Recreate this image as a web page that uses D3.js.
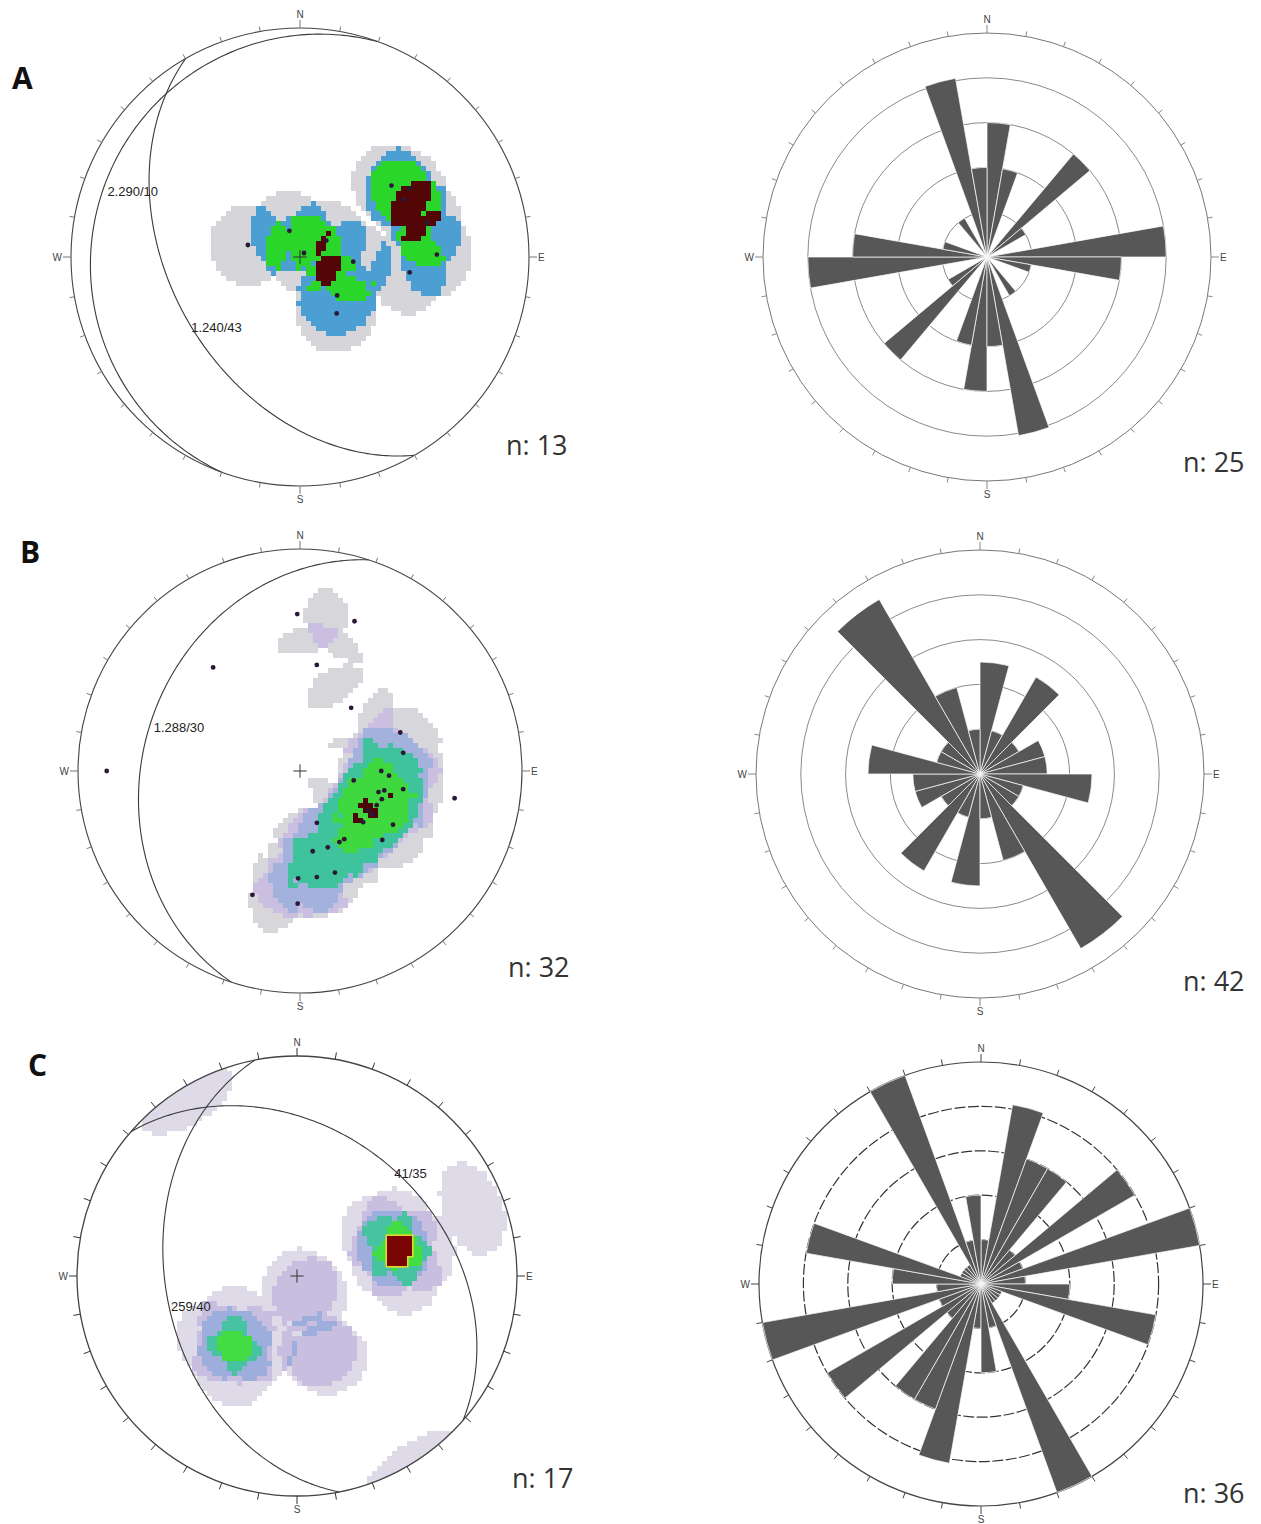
<!DOCTYPE html>
<html>
<head>
<meta charset="utf-8">
<script src="https://cdn.jsdelivr.net/npm/d3@7"></script>
<style>
  body { margin: 0; background: #fff; }
  svg { display: block; }
</style>
</head>
<body>
<svg id="fig" width="1261" height="1524"></svg>
<script>
// Stereonets (equal-area, lower hemisphere) + bidirectional rose diagrams

// poles as [trend, plunge]
const polesA = [[283,71],[338,80],[58,79],[136,71],[147,66],[98,50],[89,40],[52,48],[61,47],[58,43],[75,42],[45,88],[95,71]];
const polesB = [[359,30],[20,29],[9,50],[39,60],[69,50],[80,51],[90,60],[100,70],[100,51],[120,61],[100,30],[129,60],
                [120,50],[162,70],[130,50],[151,60],[160,60],[171,60],[161,50],[171,50],[181,50],[201,40],[181,40],
                [270,14],[320,39],[105,60],[109,58],[114,59],[103,58],[93,57],[147,60],[121,59]];
const polesC = [[63,56],[78,56],[65,47],[78,42],[89,49],[74,52],
                [221,55],[232,50],[210,60],[231,61],[215,47],
                [162,86],[146,81],[164,61],[159,57],
                [69,15],[328,4]];

// planes as [dip direction, dip]
const planesA = [[290,10],[240,43]];
const planeLabelsA = ["2.290/10", "1.240/43"];
const planesB = [[288,30]];
const planeLabelsB = ["1.288/30"];
const planesC = [[41,35],[259,40]];
const planeLabelsC = ["41/35", "259/40"];

// contour thresholds (point counts inside counting cone)
const levelsA = [1, 2, 3, 4];
const levelsB = [2, 3, 4, 6, 10, 14];
const levelsC = [1, 2, 3, 4, 5, 6];

// rose frequencies, 0-180 deg bins (mirrored), in ring units
const roseA = [3, 2, 0, 0, 3, 1, 0, 0, 4, 3, 1, 0, 0, 0, 1, 0, 4.05, 2];
const roseB = [2.5, 1, 2.5, 1, 1.5, 1.5, 2.5, 1, 1, 4.5, 2, 1];
const roseC = [1, 4.1, 3, 3, 1, 4, 1, 5, 1, 2, 4, 0.5, 0.5, 0.5, 0.5, 5, 1, 2];
const roseRings = [1, 2, 3, 4, 5];

const netCounts = ["n: 13", "n: 32", "n: 17"];
const roseCounts = ["n: 25", "n: 42", "n: 36"];
const panelLetters = ["A", "B", "C"];
const cardinals = ["N", "E", "S", "W"];

const svg = d3.select("#fig");
const rad = d => d * Math.PI / 180;
const deg = r => r * 180 / Math.PI;

function toVec(t, p) {
  return [Math.cos(rad(p)) * Math.sin(rad(t)), Math.cos(rad(p)) * Math.cos(rad(t)), Math.sin(rad(p))];
}
function toUnit(t, p) {
  const r = Math.SQRT2 * Math.sin(rad(90 - p) / 2);
  return [r * Math.sin(rad(t)), r * Math.cos(rad(t))];
}
function fromVec(v) {
  const p = deg(Math.asin(Math.max(-1, Math.min(1, v[2]))));
  const t = deg(Math.atan2(v[0], v[1]));
  return [t, p];
}

function drawNet(o) {
  const g = svg.append("g");
  const x = d3.scaleLinear().domain([-1, 1]).range([o.cx - o.R, o.cx + o.R]);
  const y = d3.scaleLinear().domain([-1, 1]).range([o.cy + o.R, o.cy - o.R]);
  const clipId = "clip" + o.id;
  g.append("clipPath").attr("id", clipId)
    .append("circle").attr("cx", o.cx).attr("cy", o.cy).attr("r", o.R);

  // counting-cone density (axial) on a pixel grid
  const pv = o.poles.map(d => toVec(d[0], d[1]));
  const cosT = Math.cos(rad(o.theta));
  const step = o.cell / o.R;
  const N = Math.ceil(2 / step);
  const cells = [];
  for (let j = 0; j < N; j++) {
    for (let i = 0; i < N; i++) {
      const u0 = -1 + i * step, v0 = -1 + j * step;
      const u = u0 + step / 2, v = v0 + step / 2;
      const r = Math.hypot(u, v);
      if (r > 1 + step) continue;
      const p = 90 - 2 * deg(Math.asin(Math.min(1, r / Math.SQRT2)));
      const t = deg(Math.atan2(u, v));
      const w = toVec(t, p);
      let n = 0;
      for (const q of pv) if (Math.abs(w[0] * q[0] + w[1] * q[1] + w[2] * q[2]) >= cosT) n++;
      let k = -1;
      o.levels.forEach((L, li) => { if (n >= L) k = li; });
      if (k >= 0) cells.push({ u0, v0, k });
    }
  }
  const cw = x(step) - x(0);
  const top = o.levels.length - 1;
  const dens = g.append("g").attr("clip-path", `url(#${clipId})`);
  dens.append("g").selectAll("rect").data(cells.filter(d => !o.rim || d.k !== top)).join("rect")
    .attr("x", d => x(d.u0)).attr("y", d => y(d.v0 + step))
    .attr("width", cw + 0.4).attr("height", cw + 0.4)
    .attr("fill", d => o.colors[d.k])
    .attr("shape-rendering", "crispEdges");
  if (o.rim) {
    const topCells = cells.filter(d => d.k === top);
    dens.append("g").selectAll("rect").data(topCells).join("rect")
      .attr("x", d => x(d.u0) - 1.5).attr("y", d => y(d.v0 + step) - 1.5)
      .attr("width", cw + 3).attr("height", cw + 3).attr("fill", o.rim);
    dens.append("g").selectAll("rect").data(topCells).join("rect")
      .attr("x", d => x(d.u0)).attr("y", d => y(d.v0 + step))
      .attr("width", cw + 0.4).attr("height", cw + 0.4)
      .attr("fill", o.colors[top]).attr("shape-rendering", "crispEdges");
  }

  // great circles
  const line = d3.line().x(d => x(d[0])).y(d => y(d[1]));
  o.planes.forEach(([dd, dip], i) => {
    const s = [Math.sin(rad(dd - 90)), Math.cos(rad(dd - 90)), 0];
    const dv = [Math.sin(rad(dd)) * Math.cos(rad(dip)), Math.cos(rad(dd)) * Math.cos(rad(dip)), Math.sin(rad(dip))];
    const pts = d3.range(0, 180.5, 1).map(a => {
      const c = Math.cos(rad(a)), sn = Math.sin(rad(a));
      const v = [c * s[0] + sn * dv[0], c * s[1] + sn * dv[1], c * s[2] + sn * dv[2]];
      const [t, p] = fromVec(v);
      return toUnit(t, p);
    });
    g.append("path").attr("d", line(pts)).attr("fill", "none")
      .attr("stroke", "#3a3a3a").attr("stroke-width", 1.1);
    const lp = toUnit(dd, dip);
    g.append("text").attr("x", x(lp[0]) + 3).attr("y", y(lp[1]) + 10)
      .attr("font-family", "Liberation Sans, Arial, sans-serif").attr("font-size", 13)
      .attr("fill", "#222").text(o.labels[i]);
  });

  // primitive + ticks
  g.append("circle").attr("cx", o.cx).attr("cy", o.cy).attr("r", o.R)
    .attr("fill", "none").attr("stroke", "#444").attr("stroke-width", o.primW);
  g.append("g").selectAll("line").data(d3.range(0, 360, 10)).join("line")
    .attr("x1", a => o.cx + o.R * Math.sin(rad(a)))
    .attr("y1", a => o.cy - o.R * Math.cos(rad(a)))
    .attr("x2", a => o.cx + (o.R + (a % 90 === 0 ? 8 : o.tick)) * Math.sin(rad(a)))
    .attr("y2", a => o.cy - (o.R + (a % 90 === 0 ? 8 : o.tick)) * Math.cos(rad(a)))
    .attr("stroke", o.tickColor).attr("stroke-width", 1);
  drawCardinals(g, o.cx, o.cy, o.R);

  // center cross
  g.append("path").attr("d", `M${x(-0.03)},${y(0)}H${x(0.03)}M${x(0)},${y(-0.03)}V${y(0.03)}`)
    .attr("stroke", "#333").attr("stroke-width", 1);

  // poles
  if (o.dots) {
    g.append("g").selectAll("circle").data(o.poles).join("circle")
      .attr("cx", d => x(toUnit(d[0], d[1])[0]))
      .attr("cy", d => y(toUnit(d[0], d[1])[1]))
      .attr("r", 2.4).attr("fill", "#2a1836");
  }

  svg.append("text").attr("x", o.nx).attr("y", o.ny)
    .attr("font-family", "Open Sans, sans-serif").attr("font-size", 27)
    .attr("fill", "#333").text(o.count);
}

function drawCardinals(g, cx, cy, R) {
  const pos = [
    [cx, cy - R - 10, "middle"],
    [cx + R + 9, cy + 4, "start"],
    [cx, cy + R + 17, "middle"],
    [cx - R - 9, cy + 4, "end"]
  ];
  g.append("g").selectAll("text").data(cardinals).join("text")
    .attr("x", (d, i) => pos[i][0]).attr("y", (d, i) => pos[i][1])
    .attr("text-anchor", (d, i) => pos[i][2])
    .attr("font-family", "Liberation Sans, Arial, sans-serif").attr("font-size", 10)
    .attr("fill", "#444").text(d => d);
}

function drawRose(o) {
  const g = svg.append("g").attr("transform", `translate(${o.cx},${o.cy})`);
  const r = d3.scaleLinear().domain([0, 5]).range([0, o.R]);
  const bin = 180 / o.values.length;

  g.append("g").selectAll("circle").data(roseRings).join("circle")
    .attr("r", d => r(d)).attr("fill", "none")
    .attr("stroke", d => d === 5 ? o.outerColor : o.ringColor)
    .attr("stroke-width", o.dashed ? 1.2 : 1)
    .attr("stroke-dasharray", d => (d < 5 && o.dashed) ? "11 2.5" : null);

  const wedges = [];
  o.values.forEach((v, i) => {
    if (v > 0) {
      wedges.push({ a0: i * bin, a1: (i + 1) * bin, v });
      wedges.push({ a0: i * bin + 180, a1: (i + 1) * bin + 180, v });
    }
  });
  const arc = d3.arc().innerRadius(0)
    .outerRadius(d => r(d.v))
    .startAngle(d => rad(d.a0)).endAngle(d => rad(d.a1));
  g.append("g").selectAll("path").data(wedges).join("path")
    .attr("d", arc).attr("fill", "#575757")
    .attr("stroke", "#fff").attr("stroke-width", 0.7).attr("stroke-linejoin", "round");

  g.append("g").selectAll("line").data(d3.range(0, 360, 10)).join("line")
    .attr("x1", a => r(5) * Math.sin(rad(a)))
    .attr("y1", a => -r(5) * Math.cos(rad(a)))
    .attr("x2", a => (r(5) + (a % 90 === 0 ? 8 : o.tick)) * Math.sin(rad(a)))
    .attr("y2", a => -(r(5) + (a % 90 === 0 ? 8 : o.tick)) * Math.cos(rad(a)))
    .attr("stroke", o.tickColor).attr("stroke-width", 1);
  drawCardinals(g, 0, 0, o.R);

  svg.append("text").attr("x", o.nx).attr("y", o.ny)
    .attr("font-family", "Open Sans, sans-serif").attr("font-size", 27)
    .attr("fill", "#333").text(o.count);
}

const colA = ["#d5d5da", "#4b9fd3", "#2bd62b", "#540606"];
const colB = ["#d6d6db", "#cabfe0", "#a2b2dc", "#3fc39d", "#3fd93f", "#4d0606"];
const colC = ["#dedae7", "#c8bee0", "#9eaedc", "#48c3a2", "#43dc43", "#7a0505"];

drawNet({ id: "A", cx: 300, cy: 257, R: 229, poles: polesA, planes: planesA, labels: planeLabelsA,
  levels: levelsA, colors: colA, theta: 14, cell: 5, dots: true, tick: 5, tickColor: "#777", primW: 1.1,
  count: netCounts[0], nx: 506, ny: 455 });
drawNet({ id: "B", cx: 300, cy: 771, R: 222, poles: polesB, planes: planesB, labels: planeLabelsB,
  levels: levelsB, colors: colB, theta: 16, cell: 5, dots: true, tick: 5, tickColor: "#777", primW: 1.1,
  count: netCounts[1], nx: 508, ny: 977 });
drawNet({ id: "C", cx: 297, cy: 1276, R: 220, poles: polesC, planes: planesC, labels: planeLabelsC,
  levels: levelsC, colors: colC, theta: 14, cell: 5, dots: false, tick: 7, tickColor: "#333", primW: 1.3,
  rim: "#e3d92a", count: netCounts[2], nx: 512, ny: 1488 });

drawRose({ cx: 987, cy: 257, R: 224, values: roseA, ringColor: "#8a8a8a", outerColor: "#777", dashed: false,
  tick: 5, tickColor: "#888", count: roseCounts[0], nx: 1183, ny: 472 });
drawRose({ cx: 980, cy: 774, R: 224, values: roseB, ringColor: "#8a8a8a", outerColor: "#777", dashed: false,
  tick: 5, tickColor: "#888", count: roseCounts[1], nx: 1183, ny: 991 });
drawRose({ cx: 981, cy: 1284, R: 222, values: roseC, ringColor: "#333", outerColor: "#444", dashed: true,
  tick: 6, tickColor: "#444", count: roseCounts[2], nx: 1183, ny: 1503 });

// panel letters
const letterPos = [[12, 89], [20, 563], [28, 1076]];
svg.append("g").selectAll("text").data(panelLetters).join("text")
  .attr("x", (d, i) => letterPos[i][0]).attr("y", (d, i) => letterPos[i][1])
  .attr("font-family", "Open Sans, sans-serif").attr("font-weight", "bold")
  .attr("font-size", 30).attr("fill", "#111").text(d => d);
</script>
</body>
</html>
